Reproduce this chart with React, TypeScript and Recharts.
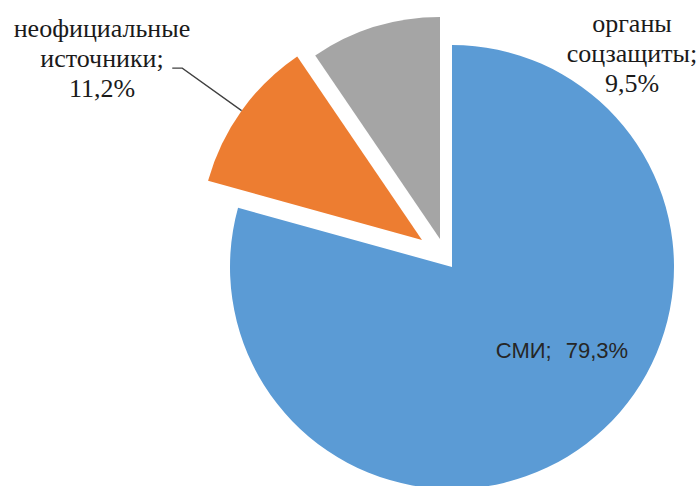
import React from "react";
import { PieChart, Pie, Cell } from "recharts";

const names = ["СМИ", "неофициальные источники", "органы соцзащиты"];
const nameLines = [["СМИ"], ["неофициальные", "источники"], ["органы", "соцзащиты"]];
const values = [79.3, 11.2, 9.5];

const COLORS = ["#5B9BD5", "#ED7D31", "#A5A5A5"];
// each slice drawn by its own Pie so the small ones can be pulled out
const CENTERS = [
    [452, 267],
    [422, 240],
    [440, 239],
];

const data = names.map((name, i) => ({ name, value: values[i] }));
const fmt = (v: number) => `${v.toFixed(1).replace(".", ",")}%`;
const RAD = Math.PI / 180;

const serif = "'Liberation Serif', 'Times New Roman', serif";
const sans = "'Liberation Sans', Arial, sans-serif";

function makeLabel(slice: number) {
    return (props: any) => {
        const { cx, cy, midAngle, outerRadius, index } = props;
        if (index !== slice) return null;
        const v = values[index];

        if (index === 0) {
            return (
                <text x={cx + 110} y={cy + 91} textAnchor="middle" fontFamily={sans} fontSize={22} fill="#262626">
                    <tspan>{`${nameLines[0][0]};`}</tspan>
                    <tspan dx={14}>{fmt(v)}</tspan>
                </text>
            );
        }

        const lines = [...nameLines[index]];
        lines[lines.length - 1] += ";";
        lines.push(fmt(v));

        let tx = cx + 192;
        let ty = cy - 207;
        let leader = null;
        if (index === 1) {
            const sx = cx + outerRadius * Math.cos(-midAngle * RAD);
            const sy = cy + outerRadius * Math.sin(-midAngle * RAD);
            const ex = cx + (outerRadius + 73) * Math.cos(-midAngle * RAD);
            const ey = cy + (outerRadius + 73) * Math.sin(-midAngle * RAD);
            leader = (
                <polyline
                    points={`${sx},${sy} ${ex},${ey} ${ex - 10},${ey}`}
                    fill="none"
                    stroke="#404040"
                    strokeWidth={1.3}
                />
            );
            tx = cx - 320;
            ty = cy - 203;
        }

        return (
            <g>
                {leader}
                <text x={tx} y={ty} textAnchor="middle" fontFamily={serif} fontSize={26} fill="#1a1a1a">
                    {lines.map((l, k) => (
                        <tspan key={k} x={tx} dy={k === 0 ? 0 : 30}>
                            {l}
                        </tspan>
                    ))}
                </text>
            </g>
        );
    };
}

export default function App() {
    return (
        <div style={{ position: "absolute", left: 0, top: 0, width: 699, height: 486, background: "#fff" }}>
            <PieChart width={699} height={486} margin={{ top: 0, right: 0, bottom: 0, left: 0 }}>
                {CENTERS.map(([x, y], s) => (
                    <Pie
                        key={s}
                        data={data}
                        dataKey="value"
                        nameKey="name"
                        cx={x}
                        cy={y}
                        outerRadius={222}
                        startAngle={90}
                        endAngle={-270}
                        stroke="none"
                        labelLine={false}
                        label={makeLabel(s)}
                        isAnimationActive={false}
                    >
                        {data.map((d, i) => (
                            <Cell key={`cell-${i}`} fill={i === s ? COLORS[i] : "transparent"} />
                        ))}
                    </Pie>
                ))}
            </PieChart>
        </div>
    );
}
